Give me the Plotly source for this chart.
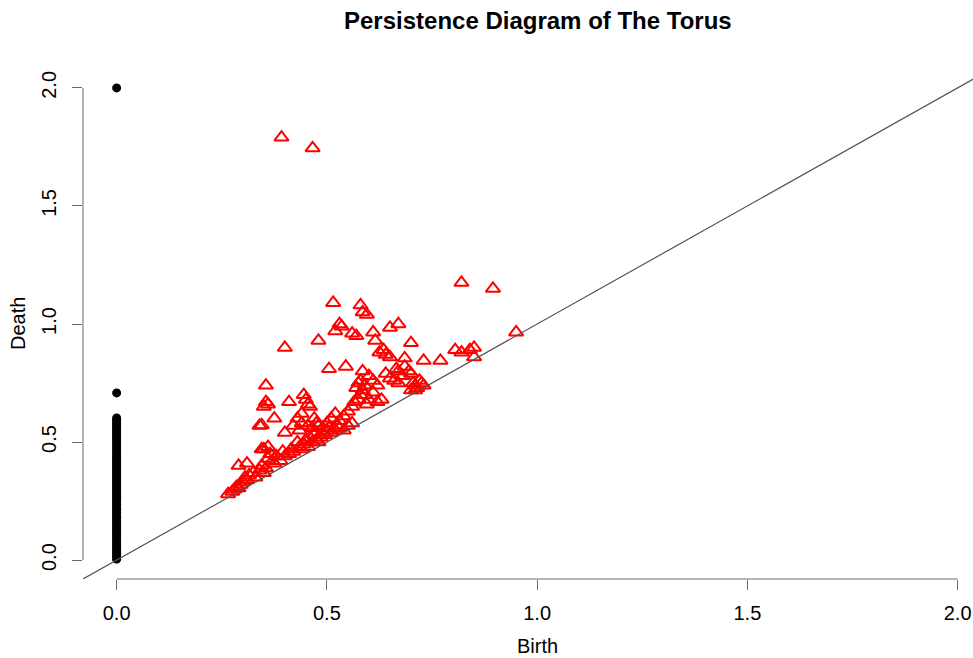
import plotly.graph_objects as go

# ---- data ----
h0_birth_value = 0.0
h0_death = [0.004, 0.012, 0.02, 0.028, 0.035, 0.043, 0.052, 0.06, 0.068, 0.077,
            0.085, 0.094, 0.102, 0.11, 0.119, 0.127, 0.136, 0.144, 0.152, 0.161,
            0.17, 0.178, 0.186, 0.195, 0.203, 0.212, 0.22, 0.229, 0.237, 0.246,
            0.254, 0.262, 0.271, 0.279, 0.288, 0.296, 0.305, 0.313, 0.322, 0.33,
            0.339, 0.347, 0.356, 0.364, 0.373, 0.381, 0.39, 0.398, 0.407, 0.415,
            0.424, 0.432, 0.441, 0.449, 0.458, 0.466, 0.475, 0.483, 0.492, 0.5,
            0.509, 0.517, 0.526, 0.534, 0.543, 0.551, 0.56, 0.568, 0.577, 0.585,
            0.594, 0.602, 0.708, 2.0]
h0_birth = [h0_birth_value] * len(h0_death)

h1_birth = [
    0.265, 0.275, 0.28, 0.285, 0.29, 0.295, 0.30, 0.305, 0.31, 0.315, 0.29, 0.31,
    0.325, 0.33, 0.34, 0.345, 0.35, 0.355, 0.36, 0.365, 0.37, 0.375, 0.38, 0.39,
    0.395, 0.40, 0.41, 0.415, 0.42, 0.43, 0.435, 0.44, 0.445, 0.45, 0.455, 0.46,
    0.465, 0.47, 0.475, 0.48, 0.485, 0.49, 0.495, 0.50, 0.505, 0.51, 0.52, 0.525,
    0.53, 0.54, 0.55, 0.56,
    0.345, 0.35, 0.36, 0.34, 0.35, 0.355, 0.36, 0.355, 0.375, 0.40, 0.41, 0.40,
    0.42, 0.43, 0.44, 0.445, 0.45, 0.455, 0.46, 0.435, 0.44, 0.455, 0.465, 0.47,
    0.475, 0.48, 0.49, 0.50, 0.51, 0.52, 0.53, 0.54, 0.55, 0.56, 0.565, 0.575,
    0.58, 0.585, 0.59, 0.595, 0.60, 0.61, 0.62, 0.63, 0.57, 0.575, 0.58, 0.59,
    0.585, 0.60, 0.61, 0.62, 0.64, 0.65, 0.66, 0.67, 0.68, 0.665, 0.67, 0.685,
    0.695, 0.70, 0.705, 0.71, 0.715, 0.72, 0.725, 0.73, 0.70, 0.71, 0.545, 0.505,
    0.48, 0.345,
    0.515, 0.58, 0.585, 0.595, 0.53, 0.52, 0.535, 0.67, 0.65, 0.61, 0.56, 0.57,
    0.615, 0.70, 0.635, 0.625, 0.64, 0.65, 0.685, 0.73, 0.77, 0.805, 0.82, 0.84,
    0.85, 0.85, 0.82, 0.895, 0.95, 0.392, 0.466,
]
h1_death = [
    0.28, 0.29, 0.30, 0.31, 0.305, 0.32, 0.33, 0.35, 0.34, 0.36, 0.40, 0.41,
    0.37, 0.35, 0.38, 0.40, 0.37, 0.39, 0.43, 0.45, 0.42, 0.41, 0.44, 0.42,
    0.46, 0.44, 0.45, 0.47, 0.46, 0.50, 0.48, 0.47, 0.49, 0.51, 0.48, 0.52,
    0.50, 0.53, 0.51, 0.50, 0.52, 0.54, 0.53, 0.55, 0.56, 0.54, 0.55, 0.57,
    0.56, 0.55, 0.57, 0.58,
    0.47, 0.47, 0.48, 0.57, 0.65, 0.67, 0.66, 0.74, 0.60, 0.54, 0.67, 0.90,
    0.57, 0.60, 0.62, 0.70, 0.68, 0.66, 0.65, 0.55, 0.58, 0.57, 0.56, 0.60,
    0.58, 0.57, 0.56, 0.58, 0.60, 0.62, 0.59, 0.61, 0.63, 0.65, 0.67, 0.68,
    0.70, 0.72, 0.70, 0.66, 0.68, 0.71, 0.67, 0.68, 0.73, 0.75, 0.76, 0.74,
    0.80, 0.78, 0.76, 0.74, 0.79, 0.77, 0.76, 0.75, 0.78, 0.81, 0.80, 0.82,
    0.80, 0.79, 0.75, 0.74, 0.73, 0.76, 0.75, 0.74, 0.72, 0.72, 0.82, 0.81,
    0.93, 0.572,
    1.09, 1.08, 1.05, 1.04, 1.00, 0.97, 0.99, 1.00, 0.985, 0.965, 0.96, 0.95,
    0.93, 0.92, 0.89, 0.88, 0.87, 0.86, 0.855, 0.845, 0.845, 0.89, 0.88, 0.89,
    0.90, 0.86, 1.175, 1.15, 0.965, 1.79, 1.745,
]

diag_ends = [-0.08, 2.2]
tick_vals = [0.0, 0.5, 1.0, 1.5, 2.0]
tick_text = ["0.0", "0.5", "1.0", "1.5", "2.0"]

title_text = "Persistence Diagram of The Torus"
x_title = "Birth"
y_title = "Death"

FONT = "Liberation Sans, Arial, Helvetica, sans-serif"
AX = "#6b6b6b"

fig = go.Figure()
fig.add_trace(go.Scatter(
    x=h0_birth, y=h0_death, mode="markers",
    marker=dict(symbol="circle", size=9, color="black", line=dict(width=0)),
    showlegend=False, hoverinfo="skip"))
fig.add_trace(go.Scatter(
    x=h1_birth, y=h1_death, mode="markers",
    marker=dict(symbol="triangle-up-open", size=12.5, color="red",
                line=dict(width=2, color="red")),
    showlegend=False, hoverinfo="skip"))
fig.add_trace(go.Scatter(
    x=diag_ends, y=diag_ends, mode="lines",
    line=dict(color="#555555", width=1.2),
    showlegend=False, hoverinfo="skip"))

# axis lines spanning only the tick range (R style)
fig.add_shape(type="line", xref="x", yref="paper",
              x0=tick_vals[0], x1=tick_vals[-1], y0=0, y1=0,
              line=dict(color=AX, width=1))
fig.add_shape(type="line", xref="paper", yref="y",
              x0=0, x1=0, y0=tick_vals[0], y1=tick_vals[-1],
              line=dict(color=AX, width=1))

fig.update_layout(
    width=973, height=658,
    margin=dict(l=83, r=0, t=69, b=79),
    paper_bgcolor="white", plot_bgcolor="white",
    font=dict(family=FONT, color="black", size=20),
    xaxis=dict(range=[-0.08, 2.0365], showgrid=False, zeroline=False,
               showline=False, tickvals=tick_vals, ticktext=tick_text,
               ticks="outside", ticklen=10, tickcolor=AX, tickwidth=1,
               tickfont=dict(size=20, family=FONT, color="black"),
               ticklabelstandoff=6),
    yaxis=dict(range=[-0.08, 2.08], showgrid=False, zeroline=False,
               showline=False, tickvals=tick_vals, ticktext=tick_text,
               ticks="outside", ticklen=10, tickcolor=AX, tickwidth=1,
               tickangle=-90,
               tickfont=dict(size=20, family=FONT, color="black"),
               ticklabelstandoff=8),
    annotations=[
        dict(text="<b>" + title_text + "</b>", xref="paper", yref="paper",
             x=0.5107, y=1.096, xanchor="center", yanchor="middle",
             showarrow=False, font=dict(size=24, family=FONT, color="black")),
        dict(text=x_title, xref="paper", yref="paper",
             x=0.5107, y=-0.131, xanchor="center", yanchor="middle",
             showarrow=False, font=dict(size=20, family=FONT, color="black")),
        dict(text=y_title, xref="paper", yref="paper",
             x=-0.073, y=0.5, xanchor="center", yanchor="middle",
             textangle=-90,
             showarrow=False, font=dict(size=20, family=FONT, color="black")),
    ],
)

fig.write_html("out.html")
